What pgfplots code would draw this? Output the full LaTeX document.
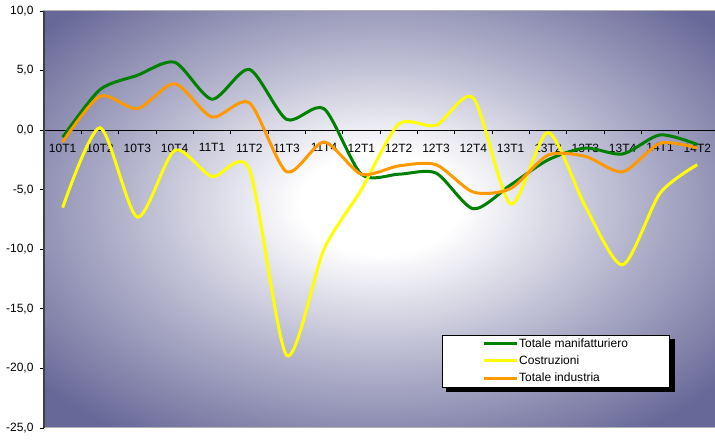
\documentclass[border=0pt]{standalone}
\usepackage{pgfplots}
\pgfplotsset{compat=1.18}
\usepackage{fontspec}
\setmainfont{Liberation Sans}
\definecolor{edgec}{RGB}{104,104,152}
\definecolor{midc}{RGB}{180,180,205}
\definecolor{gverde}{RGB}{0,128,0}
\definecolor{giallo}{RGB}{255,255,0}
\definecolor{arancio}{RGB}{255,153,0}
\pgfdeclareradialshading{bgshade}{\pgfpoint{0bp}{2bp}}{color(0bp)=(white); color(6bp)=(white); color(19bp)=(midc); color(33bp)=(edgec); color(100bp)=(edgec)}
\begin{document}
\begin{tikzpicture}
\useasboundingbox (0,0) rectangle (715pt,444pt);
\begin{axis}[
  at={(44pt,16pt)}, anchor=south west,
  scale only axis, width=672pt, height=417pt,
  xmin=-0.5, xmax=17.5, ymin=-25, ymax=10,
  axis x line*=middle, axis y line*=left,
  hide obscured x ticks=false, hide obscured y ticks=false,
  axis background/.style={shading=bgshade, draw=gray!60, line width=1pt},
  x axis line style={line width=1pt, black},
  y axis line style={line width=1.5pt, black!75},
  tick align=outside,
  major tick length=4pt, minor tick length=4pt,
  xtick={0,...,17},
  xticklabels={10T1,10T2,10T3,10T4,11T1,11T2,11T3,11T4,12T1,12T2,12T3,12T4,13T1,13T2,13T3,13T4,14T1,14T2},
  minor xtick={-0.5,0.5,...,17.5},
  major x tick style={draw=none},
  minor x tick style={black, line width=0.8pt},
  ytick={-25,-20,...,10},
  major y tick style={black, line width=0.8pt},
  tick label style={font=\fontsize{12}{14}\selectfont},
  xticklabel style={yshift=-6pt},
  yticklabel style={xshift=-3pt},
  /pgf/number format/.cd, fixed, fixed zerofill, precision=1, use comma, assume math mode=true,
  /pgfplots/.cd,
  legend style={at={(axis description cs:0.5923,0.2230)}, anchor=north west,
    draw=black, fill=white, font=\fontsize{12}{14}\selectfont,
    inner xsep=40pt, inner ysep=0pt,
    nodes={inner xsep=1pt, inner ysep=3.5pt}},
  legend cell align=left,
  legend image code/.code={\draw[#1] (0pt,0pt) -- (33pt,0pt);},
]
\addplot[gverde, line width=3pt, smooth, tension=0.45] coordinates {
(0,-0.6) (1,3.4) (2,4.6) (3,5.7) (4,2.6) (5,5.1) (6,0.9) (7,1.8) (8,-3.7) (9,-3.7) (10,-3.6) (11,-6.6) (12,-4.6) (13,-2.5) (14,-1.5) (15,-2.0) (16,-0.4) (17,-1.2)};
\addlegendentry{Totale manifatturiero}
\addplot[giallo, line width=3pt, smooth, tension=0.45] coordinates {
(0,-6.5) (1,0.2) (2,-7.3) (3,-1.7) (4,-3.9) (5,-3.3) (6,-18.9) (7,-10.0) (8,-5.0) (9,0.5) (10,0.4) (11,2.7) (12,-6.2) (13,-0.2) (14,-6.4) (15,-11.3) (16,-5.3) (17,-2.9)};
\addlegendentry{Costruzioni}
\addplot[arancio, line width=3pt, smooth, tension=0.45] coordinates {
(0,-1.0) (1,2.85) (2,1.8) (3,3.9) (4,1.1) (5,2.3) (6,-3.5) (7,-1.0) (8,-3.7) (9,-3.0) (10,-2.9) (11,-5.2) (12,-4.9) (13,-2.1) (14,-2.2) (15,-3.5) (16,-1.1) (17,-1.5)};
\addlegendentry{Totale industria}
\fill[black] (axis description cs:0.598,0.2134) rectangle (axis description cs:0.9390,0.0863);
\end{axis}
\end{tikzpicture}
\end{document}
